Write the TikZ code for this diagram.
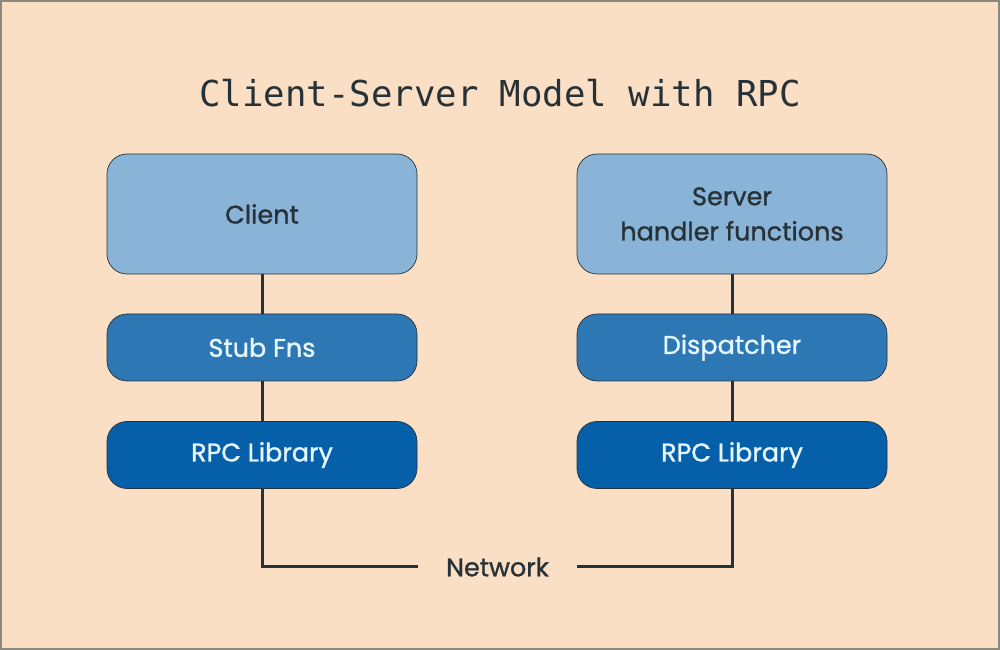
\documentclass[tikz,border=0pt]{standalone}
\usepackage{fontspec}
\setmainfont{Poppins}[UprightFeatures={FakeBold=1.1}]
\newfontfamily\titlefont{DejaVu Sans Mono}
\usetikzlibrary{positioning}

\definecolor{bgpeach}{HTML}{FADFC5}
\definecolor{frame}{HTML}{8A8A80}
\definecolor{ink}{HTML}{263238}
\definecolor{paletext}{HTML}{E6F7FF}
\definecolor{toplayer}{HTML}{8AB4D7}
\definecolor{midlayer}{HTML}{2E77B5}
\definecolor{lowlayer}{HTML}{0660A9}

\begin{document}
\begin{tikzpicture}[
    on grid,
    every node/.style={font=\fontsize{14.5}{20}\selectfont},
    layer/.style={draw=ink, thin, rounded corners=0.4cm, minimum width=6.2cm, align=center},
    app/.style={layer, fill=toplayer, minimum height=2.4cm, text=ink},
    stub/.style={layer, fill=midlayer, minimum height=1.34cm, text=paletext},
    lib/.style={layer, fill=lowlayer, minimum height=1.34cm, text=paletext},
    link/.style={draw=ink, line width=0.06cm}
]

   % background and frame
   \useasboundingbox (0,0) rectangle (20,-13);
   \fill[bgpeach] (0,0) rectangle (20,-13);
   \draw[frame, line width=0.04cm] (0.02,-0.02) rectangle (19.98,-12.98);

   % title
   \node[text=ink, font=\titlefont\fontsize{20.3}{24}\selectfont] (title) at (10,-1.86) {Client-Server Model with RPC};

   % client side
   \node[app] (client) at (5.24,-4.28) {Client};
   \node[stub] (stubs) [below=2.67cm of client] {Stub Fns};
   \node[lib] (rpcL) [below=2.15cm of stubs] {RPC Library};

   % server side
   \node[app] (server) [right=9.4cm of client] {Server\\handler functions};
   \node[stub] (disp) [below=2.67cm of server] {Dispatcher};
   \node[lib] (rpcR) [below=2.15cm of disp] {RPC Library};

   % network
   \node[text=ink, minimum width=3.18cm, inner sep=0pt] (net) at (9.95,-11.34) {Network};

   % links
   \path[link]
   (client) edge (stubs)
   (stubs) edge (rpcL)
   (server) edge (disp)
   (disp) edge (rpcR);
   \draw[link] (rpcL.south) |- (net.west);
   \draw[link] (rpcR.south) |- (net.east);

\end{tikzpicture}
\end{document}
